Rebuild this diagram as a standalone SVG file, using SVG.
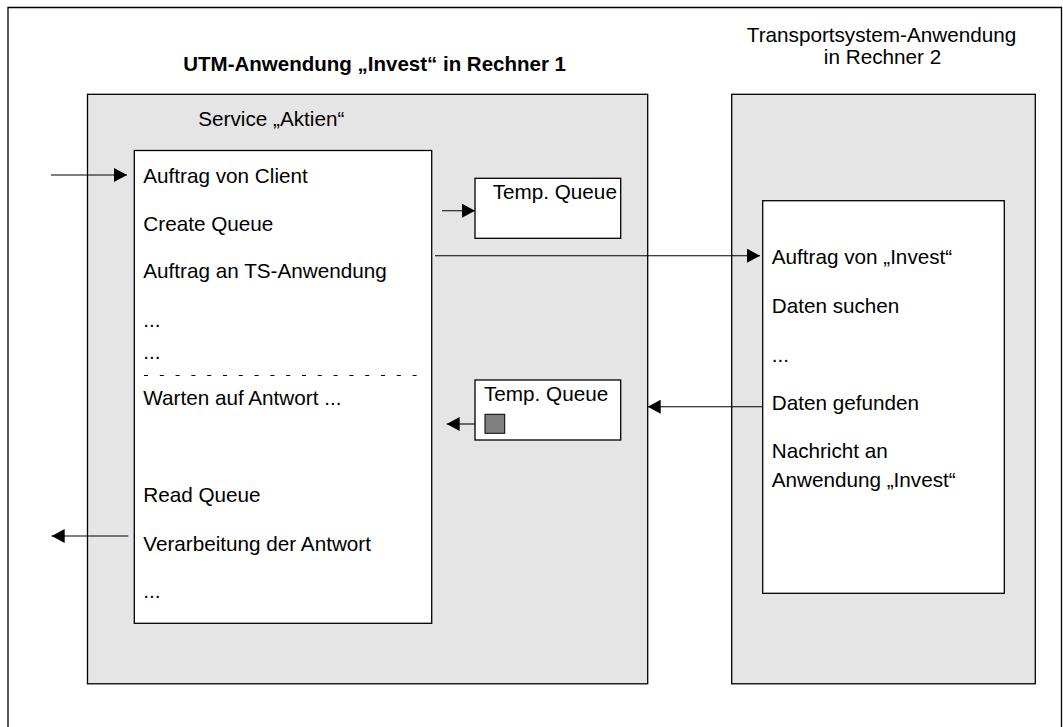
<svg xmlns="http://www.w3.org/2000/svg" width="1063" height="727" viewBox="0 0 1063 727">
<style>
  .frame{fill:none;stroke:#000;stroke-width:1.3}
  .gray{fill:#e5e5e5;stroke:#000;stroke-width:1.3}
  .white{fill:#fff;stroke:#000;stroke-width:1.3}
  .t{font-family:"Liberation Sans",Arial,Helvetica,sans-serif;font-size:20.7px;fill:#000}
  .title{font-family:"Liberation Sans",Arial,Helvetica,sans-serif;font-size:20.5px;font-weight:bold;fill:#000}
  .conn{stroke:#000;stroke-width:1.1;fill:none}
  .dash{stroke:#000;stroke-width:1;stroke-dasharray:4 11.8;fill:none}
</style>
<defs>
  <marker id="ah" markerUnits="userSpaceOnUse" markerWidth="14" markerHeight="14" viewBox="0 0 13 14" refX="13" refY="7" orient="auto">
    <path d="M0,0 L13,7 L0,14 Z" fill="#000"/>
  </marker>
</defs>
<rect x="0" y="0" width="1063" height="727" fill="#fff"/>
<g id="outer-frame">
  <path class="frame" d="M8,735 L8,7.5 L1061.5,7.5 L1061.5,735"/>
</g>
<g id="utm-application">
  <text class="title" x="183.3" y="70.7">UTM-Anwendung „Invest“ in Rechner 1</text>
  <rect class="gray" x="87.5" y="94.3" width="560.2" height="589.5"/>
  <text class="t" x="198.3" y="126">Service „Aktien“</text>
</g>
<g id="service-aktien">
  <rect class="white" x="134.3" y="150.5" width="297.4" height="472.8"/>
  <text class="t" x="143.3" y="182.7">Auftrag von Client</text>
  <text class="t" x="143.3" y="230.5">Create Queue</text>
  <text class="t" x="143.3" y="278.3">Auftrag an TS-Anwendung</text>
  <text class="t" x="143.3" y="326.7">...</text>
  <text class="t" x="143.3" y="359">...</text>
  <line class="dash" x1="144" y1="375.5" x2="417" y2="375.5"/>
  <text class="t" x="143.3" y="405">Warten auf Antwort ...</text>
  <text class="t" x="143.3" y="501.7">Read Queue</text>
  <text class="t" x="143.3" y="550.7">Verarbeitung der Antwort</text>
  <text class="t" x="143.3" y="598">...</text>
</g>
<g id="temp-queue-1">
  <rect class="white" x="475" y="178.3" width="145.7" height="60"/>
  <text class="t" x="492.7" y="199">Temp. Queue</text>
</g>
<g id="temp-queue-2">
  <rect class="white" x="475" y="380" width="145.7" height="60"/>
  <text class="t" x="484" y="401">Temp. Queue</text>
  <rect x="485" y="414.3" width="19.7" height="19" fill="#808080" stroke="#000" stroke-width="1"/>
</g>
<g id="ts-application">
  <text class="t" x="881.5" y="41.7" text-anchor="middle">Transportsystem-Anwendung</text>
  <text class="t" x="882.5" y="64" text-anchor="middle">in Rechner 2</text>
  <rect class="gray" x="731.7" y="94.3" width="303.6" height="589.5"/>
</g>
<g id="ts-process">
  <rect class="white" x="762.7" y="200.7" width="241.6" height="392.6"/>
  <text class="t" x="771.7" y="264.3">Auftrag von „Invest“</text>
  <text class="t" x="771.7" y="312.7">Daten suchen</text>
  <text class="t" x="771.7" y="361.7">...</text>
  <text class="t" x="771.7" y="410">Daten gefunden</text>
  <text class="t" x="771.7" y="457.7">Nachricht an</text>
  <text class="t" x="771.7" y="486.7">Anwendung „Invest“</text>
</g>
<g id="connectors">
  <line class="conn" x1="51" y1="175" x2="127" y2="175" marker-end="url(#ah)"/>
  <line class="conn" x1="442" y1="210.7" x2="475" y2="210.7" marker-end="url(#ah)"/>
  <line class="conn" x1="435" y1="255.7" x2="760" y2="255.7" marker-end="url(#ah)"/>
  <line class="conn" x1="762.7" y1="406.7" x2="647.7" y2="406.7" marker-end="url(#ah)"/>
  <line class="conn" x1="475" y1="424" x2="446.7" y2="424" marker-end="url(#ah)"/>
  <line class="conn" x1="128.3" y1="536" x2="51.7" y2="536" marker-end="url(#ah)"/>
</g>
</svg>
